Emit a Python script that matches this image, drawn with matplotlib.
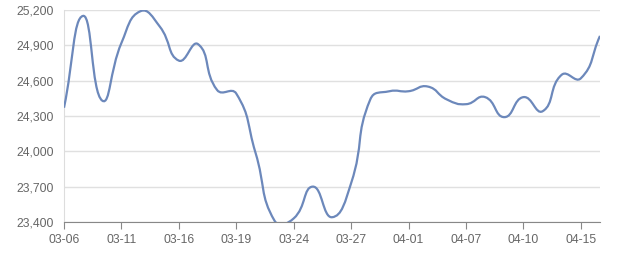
import matplotlib
matplotlib.use("Agg")
import matplotlib.pyplot as plt
import numpy as np
from matplotlib.path import Path
from matplotlib.patches import PathPatch
from matplotlib.ticker import FuncFormatter

# trading days (category axis) and prices
dates = ["03-06", "03-07", "03-10", "03-11", "03-12", "03-13", "03-16", "03-17",
         "03-18", "03-19", "03-20", "03-21", "03-24", "03-25", "03-26", "03-27",
         "03-28", "03-31", "04-01", "04-02", "04-03", "04-07", "04-08", "04-09",
         "04-10", "04-11", "04-14", "04-15", "04-16"]
shown_labels = ["03-06", "03-11", "03-16", "03-19", "03-24", "03-27",
                "04-01", "04-07", "04-10", "04-15"]
prices = [24370, 25150, 24430, 24920, 25190, 25060, 24770, 24910,
          24520, 24490, 23990, 23410, 23430, 23700, 23440, 23730,
          24440, 24510, 24510, 24550, 24440, 24400, 24460, 24290,
          24460, 24340, 24650, 24620, 24980]
y_ticks = [23400, 23700, 24000, 24300, 24600, 24900, 25200]

fig = plt.figure(figsize=(6.4, 2.7), dpi=100)
ax = fig.add_axes([0.1, 0.178, 0.8375, 0.785])
ax.set_xlim(0, len(dates) - 1)
ax.set_ylim(23400, 25200)

# echarts-like smooth bezier, control points computed in pixel space
x = np.arange(len(prices))
pts = ax.transData.transform(np.column_stack([x, prices]))
smooth = 0.5
verts = [pts[0]]
codes = [Path.MOVETO]
cps = []
for i in range(len(pts)):
    p = pts[i]
    prev = pts[i - 1] if i > 0 else p
    nxt = pts[i + 1] if i < len(pts) - 1 else p
    v = (nxt - prev) * smooth
    d0 = np.hypot(*(p - prev))
    d1 = np.hypot(*(p - nxt))
    s = d0 + d1
    if s == 0:
        cps.append((p, p))
        continue
    cps.append((p - v * d0 / s, p + v * d1 / s))
for i in range(1, len(pts)):
    verts += [cps[i - 1][1], cps[i][0], pts[i]]
    codes += [Path.CURVE4] * 3
verts = ax.transData.inverted().transform(np.array(verts))
ax.add_patch(PathPatch(Path(verts, codes), facecolor="none",
                       edgecolor="#6c88bb", lw=1.6, clip_on=True, zorder=3))

ax.set_yticks(y_ticks)
ax.yaxis.set_major_formatter(FuncFormatter(lambda v, _: f"{int(v):,}"))
ax.set_xticks([dates.index(d) for d in shown_labels])
ax.set_xticklabels(shown_labels)
ax.grid(axis="y", color="#e0e0e0", lw=1)
ax.set_axisbelow(True)

for side in ["top", "right"]:
    ax.spines[side].set_visible(False)
ax.spines["left"].set_color("#dddddd")
ax.spines["bottom"].set_color("#888888")
ax.tick_params(axis="y", length=0, pad=7, labelsize=8.7, labelcolor="#666666")
ax.tick_params(axis="x", length=5, color="#888888", pad=4,
               labelsize=8.7, labelcolor="#666666")
for t in ax.get_xticklabels() + ax.get_yticklabels():
    t.set_fontfamily("Liberation Sans")

fig.savefig("out.png", dpi=100)
